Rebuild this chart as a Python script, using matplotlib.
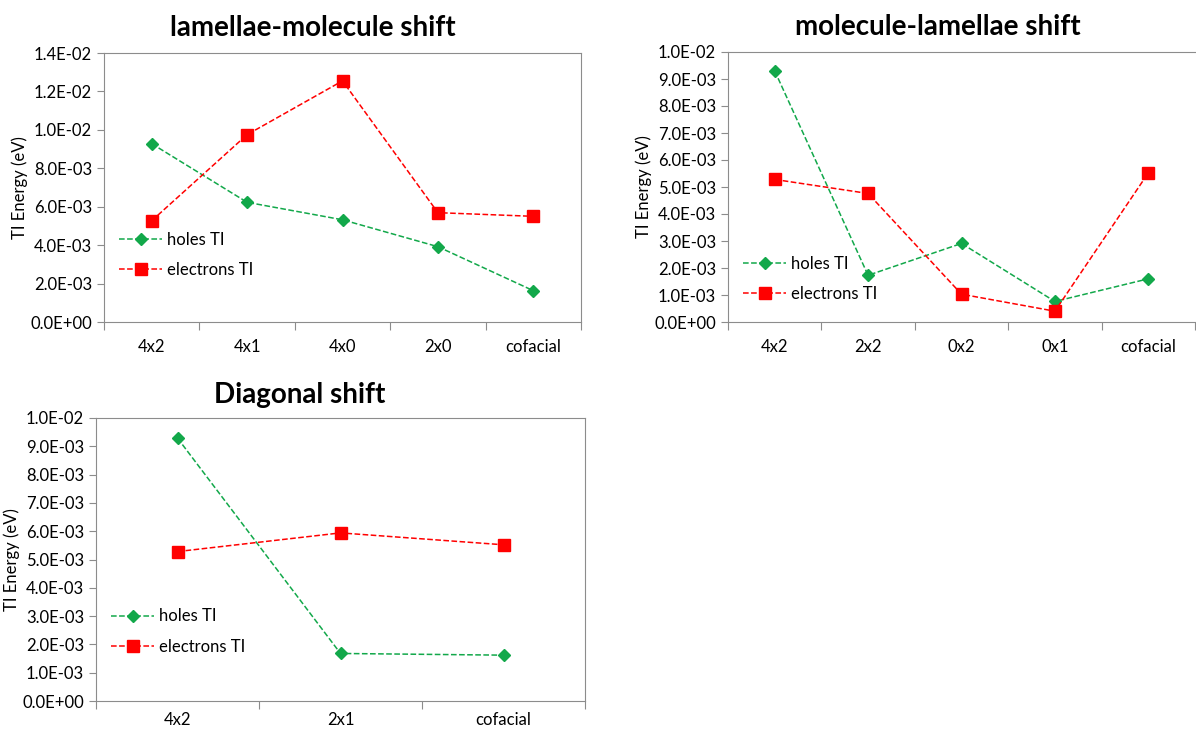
import numpy as np
import matplotlib
matplotlib.use('Agg')
import matplotlib.pyplot as plt
from matplotlib.ticker import FixedLocator, FuncFormatter

plt.rcParams['font.family'] = ['Lato', 'Open Sans', 'DejaVu Sans']

# ====================================================================
# Data (TI energies in eV)
# ====================================================================
cats_lm = ['4x2', '4x1', '4x0', '2x0', 'cofacial']
holes_lm = [9.28e-3, 6.23e-3, 5.32e-3, 3.92e-3, 1.63e-3]
elec_lm = [5.27e-3, 9.75e-3, 1.255e-2, 5.69e-3, 5.50e-3]

cats_ml = ['4x2', '2x2', '0x2', '0x1', 'cofacial']
holes_ml = [9.30e-3, 1.73e-3, 2.91e-3, 0.76e-3, 1.60e-3]
elec_ml = [5.28e-3, 4.76e-3, 1.03e-3, 0.40e-3, 5.52e-3]

cats_dg = ['4x2', '2x1', 'cofacial']
holes_dg = [9.29e-3, 1.68e-3, 1.62e-3]
elec_dg = [5.28e-3, 5.94e-3, 5.52e-3]

GREEN = '#12A84A'
RED = '#FF0000'
FRAME = '#8C8C8C'

fig = plt.figure(figsize=(11.96, 7.31), dpi=100)
W, H = 1196, 731


def sci(v, pos=None):
    if v == 0:
        return '0.0E+00'
    e = int(np.floor(np.log10(abs(v)) + 1e-9))
    m = v / 10 ** e
    return f'{m:.1f}E{e:+03d}'


def axes_px(l, t, r, b):
    return fig.add_axes([l / W, 1 - b / H, (r - l) / W, (b - t) / H])


def panel(ax, cats, holes, elec, title, title_xy, ymax, ystep, leg_y, xpad=12):
    x = np.arange(len(cats))
    ax.plot(x, holes, '--', color=GREEN, lw=1.1, marker='D', ms=6,
            label='holes TI')
    ax.plot(x, elec, '--', color=RED, lw=1.1, marker='s', ms=8,
            label='electrons TI')
    ax.set_xlim(-0.5, len(cats) - 0.5)
    ax.set_ylim(0, ymax)
    ax.yaxis.set_major_locator(FixedLocator(np.arange(0, ymax + ystep / 2, ystep)))
    ax.yaxis.set_major_formatter(FuncFormatter(sci))
    # category boundaries as major ticks, labels on minor ticks
    ax.xaxis.set_major_locator(FixedLocator(np.arange(len(cats) + 1) - 0.5))
    ax.xaxis.set_major_formatter(FuncFormatter(lambda v, p: ''))
    ax.set_xticks(x, minor=True)
    ax.set_xticklabels(cats, minor=True)
    ax.tick_params(axis='x', which='minor', length=0, pad=xpad, labelsize=12)
    ax.tick_params(axis='x', which='major', length=6, color=FRAME)
    ax.tick_params(axis='y', length=5, color=FRAME, labelsize=12)
    for s in ax.spines.values():
        s.set_color(FRAME)
    ax.set_ylabel('TI Energy (eV)', fontsize=12, labelpad=2)
    # chart title is centred on the whole chart area, not on the plot box
    fig.text(title_xy[0] / W, 1 - title_xy[1] / H, title, fontsize=20,
             fontweight='bold', ha='center', va='center')
    ax.legend(loc='upper left', bbox_to_anchor=(0.0, leg_y), frameon=False,
              fontsize=12, handlelength=2.6, labelspacing=0.85,
              handletextpad=0.3)


ax1 = axes_px(104, 53, 581, 322)
ax2 = axes_px(728, 52, 1195, 322)
ax3 = axes_px(96, 418, 585, 701)

panel(ax1, cats_lm, holes_lm, elec_lm, 'lamellae-molecule shift', (313, 28),
      1.4e-2, 2e-3, 0.39)
panel(ax2, cats_ml, holes_ml, elec_ml, 'molecule-lamellae shift', (938, 27),
      1.0e-2, 1e-3, 0.30)
panel(ax3, cats_dg, holes_dg, elec_dg, 'Diagonal shift', (300, 395),
      1.0e-2, 1e-3, 0.38, xpad=8)
ax2.spines['right'].set_visible(False)

fig.savefig('out.png', dpi=100)
